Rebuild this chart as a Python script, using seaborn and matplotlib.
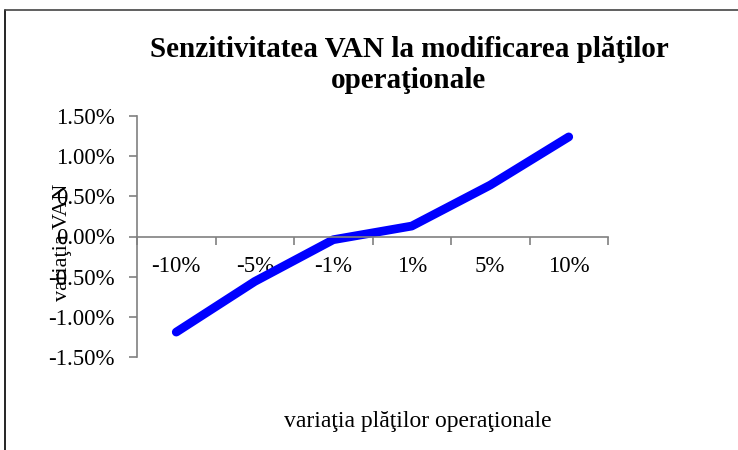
import matplotlib
matplotlib.use("Agg")
import matplotlib.pyplot as plt
import seaborn as sns
import pandas as pd
from matplotlib.lines import Line2D

# ---- data ----
categories = ["-10%", "-5%", "-1%", "1%", "5%", "10%"]
van_change = [-1.19, -0.56, -0.04, 0.13, 0.64, 1.24]   # in percent
ytick_values = [-1.5, -1.0, -0.5, 0.0, 0.5, 1.0, 1.5]
ytick_labels = ["-1.50%", "-1.00%", "-0.50%", "0.00%", "0.50%", "1.00%", "1.50%"]
title_text = "Senzitivitatea VAN la modificarea plăţilor\noperaţionale"
xlabel_text = "variaţia plăţilor operaţionale"
ylabel_text = "variaţia VAN"

sns.set_theme(style="white")
plt.rcParams['font.family'] = ['Liberation Serif', 'DejaVu Serif']

W, H = 738, 450
fig = plt.figure(figsize=(W / 100, H / 100), dpi=100)
fig.patch.set_facecolor("white")
ax = fig.add_axes([137 / W, 1 - 357 / H, (608 - 137) / W, (357 - 116) / H])
ax.set_facecolor("white")

df = pd.DataFrame({"pos": range(len(categories)), "val": van_change})
sns.lineplot(data=df, x="pos", y="val", ax=ax, color="#0000FF", linewidth=6.3,
             solid_capstyle="round", solid_joinstyle="round")

ax.set_xlim(-0.5, len(categories) - 0.5)
ax.set_ylim(-1.5, 1.5)

spine_color = "#808080"
for s in ["top", "right"]:
    ax.spines[s].set_visible(False)
ax.spines["left"].set_color(spine_color)
ax.spines["bottom"].set_color(spine_color)
ax.spines["bottom"].set_position(("data", 0))
ax.spines["left"].set_linewidth(1.2)
ax.spines["bottom"].set_linewidth(1.2)

tick_fs = 16.5

# y ticks
ax.set_yticks(ytick_values, labels=ytick_labels)
ax.tick_params(axis="y", direction="out", length=6, width=1.2, color=spine_color,
               labelsize=tick_fs, pad=10, left=True)

# x ticks: boundaries as marks, category labels centered
ax.set_xticks([i - 0.5 for i in range(len(categories) + 1)], labels=[""] * (len(categories) + 1))
ax.set_xticks(range(len(categories)), labels=categories, minor=True)
ax.tick_params(axis="x", which="major", direction="out", length=6, width=1.2,
               color=spine_color, bottom=True)
ax.tick_params(axis="x", which="minor", length=0, labelsize=tick_fs, pad=14, bottom=True)
for lab in ax.get_yticklabels() + ax.get_xticklabels(minor=True):
    lab.set_color("black")

ax.set_xlabel(xlabel_text, fontsize=17, color="black")
ax.xaxis.set_label_coords((418 - 137) / 471, (357 - 422) / 241)
ax.xaxis.label.set_verticalalignment("center")
ax.set_ylabel(ylabel_text, fontsize=16, color="black")
ax.yaxis.set_label_coords((63 - 137) / 471, (357 - 242) / 241)
ax.yaxis.label.set_verticalalignment("center")

fig.text(409 / W, 1 - 65 / H, title_text, ha="center", va="center",
         fontsize=21, fontweight="bold", linespacing=1.17, color="black")

# outer chart frame (partially visible)
fig.add_artist(Line2D([5 / W, 5 / W], [0, 1 - 10 / H], color="black", lw=1.2,
                      transform=fig.transFigure))
fig.add_artist(Line2D([5 / W, 1], [1 - 10 / H, 1 - 10 / H], color="#444444", lw=1.2,
                      transform=fig.transFigure))

fig.savefig("out.png", dpi=100, facecolor="white")
